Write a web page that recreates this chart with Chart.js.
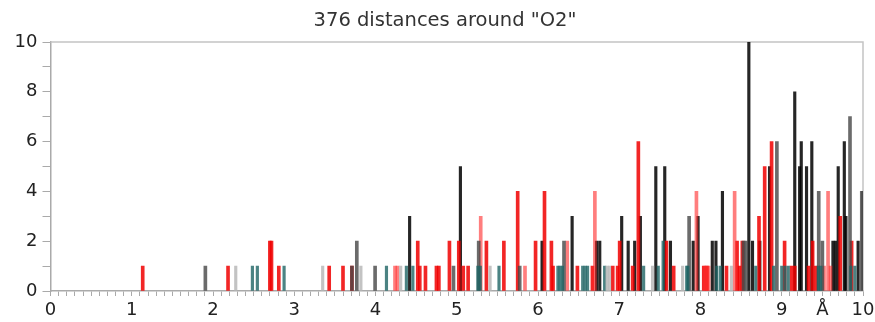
<!DOCTYPE html>
<html lang="en">
<head>
    <meta charset="UTF-8">
    <title>376 distances around "O2"</title>
    <style>
        html, body { margin: 0; padding: 0; background: #fff; }
        #wrap { width: 875px; height: 322px; }
    </style>
</head>
<body>
    <div id="wrap"><canvas id="myChart"></canvas></div>

    <script src="https://cdn.jsdelivr.net/npm/chart.js"></script>

    <script>
        // [distance in Å, count]
        let redBars = [
            [1.135, 1], [2.185, 1], [2.70, 2], [2.72, 2], [2.81, 1], [3.43, 1], [3.60, 1], [3.71, 1],
            [4.52, 2], [4.545, 1], [4.615, 1], [4.75, 1], [4.78, 1], [4.91, 2], [5.025, 2], [5.08, 1],
            [5.14, 1], [5.365, 2], [5.58, 2], [5.75, 4], [5.97, 2], [6.08, 4], [6.165, 2], [6.185, 1],
            [6.485, 1], [6.67, 1], [6.92, 1], [6.98, 1], [7.005, 2], [7.165, 1], [7.235, 6], [7.58, 2],
            [7.67, 1], [8.04, 1], [8.08, 1], [8.32, 1], [8.45, 2], [8.48, 1], [8.515, 2], [8.72, 3],
            [8.79, 5], [8.875, 6], [9.035, 2], [9.12, 1], [9.16, 1], [9.33, 1], [9.38, 2], [9.42, 1],
            [9.72, 3], [9.86, 2]
        ];
        let pinkBars = [
            [4.24, 1], [4.27, 1], [5.295, 3], [5.84, 1], [6.36, 2], [6.70, 4], [7.95, 4], [8.06, 1],
            [8.10, 1], [8.42, 4], [9.52, 1], [9.57, 4], [9.60, 1]
        ];
        let blackBars = [
            [4.42, 3], [5.045, 5], [6.05, 2], [6.42, 3], [6.72, 2], [6.76, 2], [7.03, 3], [7.11, 2],
            [7.19, 2], [7.26, 3], [7.45, 5], [7.56, 5], [7.63, 2], [7.91, 2], [7.97, 3], [8.145, 2],
            [8.19, 2], [8.27, 4], [8.595, 10], [8.64, 2], [8.73, 2], [8.85, 5], [9.16, 8], [9.22, 5],
            [9.24, 6], [9.305, 5], [9.37, 6], [9.63, 2], [9.66, 2], [9.695, 5], [9.77, 6], [9.79, 3],
            [9.94, 2]
        ];
        let grayBars = [
            [1.906, 1], [3.71, 1], [3.77, 2], [3.995, 1], [4.96, 1], [5.27, 2], [5.775, 1], [6.32, 2],
            [7.86, 3], [8.53, 2], [8.56, 2], [8.94, 6], [9.455, 4], [9.50, 2], [9.84, 7], [9.985, 4],
            [10.0, 4]
        ];
        let lightBars = [
            [2.28, 1], [3.35, 1], [3.82, 1], [4.31, 1], [5.41, 1], [6.85, 1], [6.88, 1], [7.41, 1],
            [7.78, 1], [8.38, 1]
        ];
        let tealBars = [
            [2.485, 1], [2.546, 1], [2.875, 1], [4.135, 1], [4.38, 1], [4.46, 1], [5.26, 1], [5.29, 1],
            [5.52, 1], [6.245, 1], [6.27, 1], [6.30, 1], [6.55, 1], [6.58, 1], [6.61, 1], [6.82, 1],
            [7.30, 1], [7.48, 1], [7.54, 2], [7.83, 1], [7.845, 1], [8.20, 1], [8.245, 1], [8.68, 1],
            [8.90, 1], [9.00, 1], [9.04, 1], [9.08, 1], [9.45, 1], [9.48, 1], [9.85, 1], [9.90, 1]
        ];

        let xLabels = [0, 1, 2, 3, 4, 5, 6, 7, 8, 9, 10];
        let yLabels = [0, 2, 4, 6, 8, 10];
        let titleText = '376 distances around "O2"';

        function toPoints(list) {
            return list.map(p => ({ x: p[0], y: p[1] }));
        }

        // 위/오른쪽 테두리 + 제목
        const frame = {
            id: 'frame',
            beforeDatasetsDraw(chart) {
                const a = chart.chartArea;
                const c = chart.ctx;
                c.save();
                c.strokeStyle = '#c4c4c4';
                c.lineWidth = 1.5;
                c.beginPath();
                c.moveTo(a.left, a.top);
                c.lineTo(a.right, a.top);
                c.lineTo(a.right, a.bottom);
                c.stroke();

                c.fillStyle = '#333';
                c.font = '19.5px "DejaVu Sans"';
                c.textAlign = 'center';
                c.textBaseline = 'middle';
                c.fillText(titleText, 445, 21);
                c.restore();
            }
        };

        const ctx = document.getElementById('myChart');

        new Chart(ctx, {
            type: 'bar',
            data: {
                datasets: [
                    { data: toPoints(lightBars), backgroundColor: 'rgba(185,185,185,0.85)', barThickness: 2.5 },
                    { data: toPoints(tealBars), backgroundColor: 'rgba(30,100,100,0.8)', barThickness: 2.5 },
                    { data: toPoints(grayBars), backgroundColor: 'rgba(70,70,70,0.8)', barThickness: 3 },
                    { data: toPoints(pinkBars), backgroundColor: 'rgba(255,40,40,0.6)', barThickness: 3 },
                    { data: toPoints(redBars), backgroundColor: 'rgba(240,0,0,0.85)', barThickness: 3 },
                    { data: toPoints(blackBars), backgroundColor: 'rgba(0,0,0,0.85)', barThickness: 2.5 }
                ]
            },
            options: {
                responsive: true,
                maintainAspectRatio: false,
                animation: false,
                grouped: false,
                layout: { padding: { left: 6, right: 12, top: 42, bottom: 0 } },
                plugins: {
                    legend: { display: false },
                    tooltip: { enabled: false },
                    title: { display: false }
                },
                scales: {
                    x: {
                        type: 'linear',
                        min: 0,
                        max: 10,
                        offset: false,
                        grid: { offset: false, drawOnChartArea: false, color: '#aaa', tickLength: 5 },
                        border: { color: '#aaa', width: 1.5 },
                        ticks: {
                            stepSize: 0.1,
                            autoSkip: false,
                            maxRotation: 0,
                            padding: 4,
                            color: '#222',
                            font: { family: 'DejaVu Sans', size: 18 },
                            callback: function (v) {
                                let r = Math.round(v);
                                if (Math.abs(v - r) < 1e-6 && xLabels.includes(r)) return String(r);
                                if (Math.abs(v - 9.5) < 1e-6) return 'Å';
                                return '';
                            }
                        },
                        afterFit: function (scale) {
                            scale.height = 31;
                            scale.paddingRight = 0;
                            scale.paddingLeft = 0;
                        }
                    },
                    y: {
                        min: 0,
                        max: 10,
                        grid: { drawOnChartArea: false, color: '#aaa', tickLength: 8 },
                        border: { color: '#aaa', width: 1.5 },
                        ticks: {
                            stepSize: 1,
                            autoSkip: false,
                            padding: 5,
                            color: '#222',
                            font: { family: 'DejaVu Sans', size: 18 },
                            callback: function (v) {
                                return yLabels.includes(v) ? String(v) : '';
                            }
                        },
                        afterFit: function (scale) { scale.width = 44.5; }
                    }
                }
            },
            plugins: [frame]
        });
    </script>
</body>
</html>
